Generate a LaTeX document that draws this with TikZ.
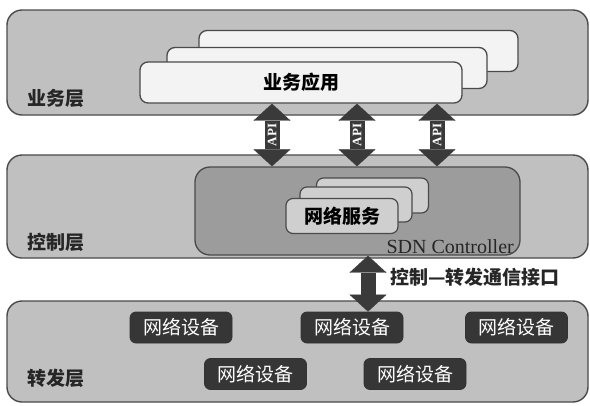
\documentclass[tikz,border=0pt]{standalone}
\usepackage{fontspec}
\setmainfont{Liberation Serif}
\newfontfamily\cjk{Noto Sans CJK SC}
\usetikzlibrary{arrows.meta}
\definecolor{layergray}{HTML}{C0C0C0}
\definecolor{edgegray}{HTML}{4A4A4A}
\definecolor{appwhite}{HTML}{F3F3F3}
\definecolor{ctrlgray}{HTML}{9C9C9C}
\definecolor{svcgray}{HTML}{CFCFCF}
\definecolor{devdark}{HTML}{363636}
\definecolor{arrowdark}{HTML}{3A3A3A}
\begin{document}
\begin{tikzpicture}[x=1pt,y=-1pt,
  layer/.style={draw=edgegray,line width=1.4pt,fill=layergray,rounded corners=15pt,minimum width=581pt,inner sep=0pt},
  tag/.style={font=\cjk\bfseries\fontsize{19}{19}\selectfont,text=black!85,inner sep=0pt},
  app/.style={draw=edgegray,line width=1.3pt,fill=appwhite,rounded corners=8pt,inner sep=0pt,minimum height=41pt,font=\cjk\bfseries\fontsize{19}{19}\selectfont},
  svc/.style={draw=edgegray,line width=1.2pt,fill=svcgray,rounded corners=7pt,inner sep=0pt,minimum width=112pt,minimum height=35pt,font=\cjk\bfseries\fontsize{19}{19}\selectfont},
  dev/.style={draw=black!80,line width=0.8pt,fill=devdark,rounded corners=6pt,inner sep=0pt,minimum width=102pt,minimum height=31pt,text=white,font=\cjk\fontsize{19}{19}\selectfont},
  blockarrow/.style={draw=arrowdark,line width=15pt,<->,>={Triangle[width=37pt,length=17pt,line width=0.4pt]}}]
\useasboundingbox (0,0) rectangle (590,405);
% three layers
\node[layer,minimum height=105pt] (biz) at (297.5,62.5) {};
\node[layer,minimum height=103pt] (ctl) at (297.5,206.5) {};
\node[layer,minimum height=101pt] (fwd) at (297.5,351.5) {};
\node[tag] (bizname) at (56,98) {业务层};
\node[tag] (ctlname) at (56,242) {控制层};
\node[tag] (fwdname) at (56,378) {转发层};
% applications
\node[app,minimum width=319pt] (app3) at (358.5,51) {};
\node[app,minimum width=320pt] (app2) at (327,68) {};
\node[app,minimum width=322pt] (app1) at (301,82.5) {业务应用};
% controller
\node[draw=edgegray,line width=1.3pt,fill=ctrlgray,rounded corners=15pt,minimum width=325pt,minimum height=88pt] (ctrl) at (357.5,211) {};
\node[svc] (svc3) at (372.5,195.5) {};
\node[svc] (svc2) at (356,204.5) {};
\node[svc] (svc1) at (342,216) {网络服务};
\node[anchor=east,inner sep=0pt,font=\fontsize{20}{20}\selectfont,text=black!85] (ctrlname) at (514,247) {SDN Controller};
% devices
\node[dev] (dev1) at (181,327.5) {网络设备};
\node[dev] (dev2) at (352,327.5) {网络设备};
\node[dev] (dev3) at (516.5,327.5) {网络设备};
\node[dev] (dev4) at (255.5,374) {网络设备};
\node[dev] (dev5) at (415,374) {网络设备};
% interfaces
\coordinate (a1) at (272,0);
\coordinate (a2) at (357,0);
\coordinate (a3) at (437,0);
\coordinate (a4) at (368,0);
\draw[blockarrow] (app1.south -| a1) -- node[midway,rotate=90,text=white,inner sep=0pt,font=\bfseries\fontsize{13}{13}\selectfont]{API} (ctrl.north -| a1);
\draw[blockarrow] (app1.south -| a2) -- node[midway,rotate=90,text=white,inner sep=0pt,font=\bfseries\fontsize{13}{13}\selectfont]{API} (ctrl.north -| a2);
\draw[blockarrow] (app1.south -| a3) -- node[midway,rotate=90,text=white,inner sep=0pt,font=\bfseries\fontsize{13}{13}\selectfont]{API} (ctrl.north -| a3);
\draw[blockarrow] (ctrl.south -| a4) -- node[pos=0.38,anchor=west,xshift=15pt,inner sep=0pt,text=black!85,font=\cjk\bfseries\fontsize{19}{19}\selectfont]{控制—转发通信接口} (dev2.north -| a4);
\end{tikzpicture}
\end{document}
